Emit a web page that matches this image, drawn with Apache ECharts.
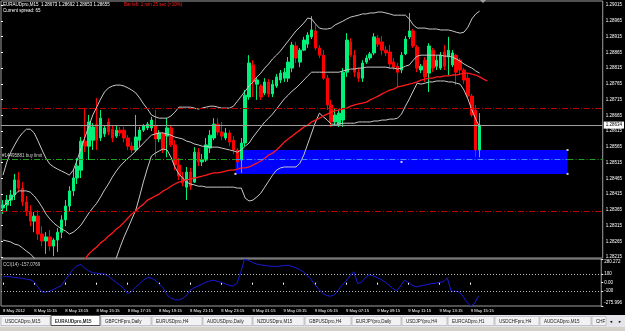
<!DOCTYPE html>
<html>
<head>
<meta charset="utf-8" />
<title>EURAUDpro,M15</title>
<script src="https://cdn.jsdelivr.net/npm/echarts@6.0.0/dist/echarts.min.js"></script>
</head>
<body style="margin:0;background:#000">
<div id="mt4-chart" style="width:625px;height:331px"></div>
<script>
// prices are kept in points (1 point = 0.00001)
// candles: [open, close, low, high], 8 May 09:15 .. 9 May 15:45, M15
const bars = [
  [128371,128380,128352,128396],[128380,128396,128358,128412],[128396,128412,128377,128428],[128412,128460,128396,128479],
  [128460,128434,128421,128485],[128434,128390,128377,128453],[128390,128361,128345,128409],[128361,128329,128313,128380],
  [128329,128345,128294,128358],[128345,128288,128269,128364],[128288,128266,128250,128313],[128266,128279,128225,128294],
  [128279,128250,128234,128301],[128250,128269,128218,128275],[128269,128294,128231,128307],[128294,128333,128275,128348],
  [128333,128377,128313,128396],[128377,128425,128361,128440],[128425,128466,128409,128491],[128466,128504,128447,128529],
  [128491,128583,128466,128596],[128583,128567,128548,128688],[128567,128644,128523,128666],[128586,128628,128555,128640],
  [128637,128586,128555,128720],[128593,128656,128583,128682],[128606,128625,128596,128634],[128644,128612,128602,128656],
  [128621,128593,128580,128634],[128599,128618,128593,128631],[128618,128609,128599,128628],[128618,128593,128580,128628],
  [128593,128567,128555,128602],[128567,128555,128545,128580],[128555,128596,128548,128666],[128586,128618,128564,128628],
  [128618,128631,128612,128637],[128625,128637,128618,128644],[128625,128650,128615,128660],[128631,128590,128532,128682],
  [128590,128609,128580,128618],[128606,128555,128545,128612],[128599,128625,128532,128656],[128625,128571,128564,128634],
  [128571,128507,128491,128586],[128507,128472,128460,128529],[128469,128450,128440,128485],[128437,128485,128396,128501],
  [128485,128440,128428,128498],[128453,128548,128450,128564],[128548,128517,128504,128561],[128517,128523,128504,128542],
  [128523,128571,128517,128593],[128561,128602,128545,128618],[128593,128637,128586,128656],[128637,128612,128602,128656],
  [128612,128599,128586,128644],[128593,128609,128586,128625],[128609,128580,128567,128618],[128586,128555,128542,128599],
  [128555,128517,128498,128561],[128523,128577,128482,128593],[128577,128729,128567,128745],[128723,128831,128714,128856],
  [128825,128771,128723,128840],[128764,128777,128714,128783],[128758,128723,128714,128764],[128736,128771,128729,128783],
  [128771,128733,128723,128780],[128733,128764,128723,128777],[128758,128787,128752,128796],[128777,128799,128767,128809],
  [128783,128802,128771,128815],[128783,128834,128771,128850],[128815,128888,128802,128898],[128885,128847,128831,128898],
  [128834,128872,128818,128879],[128872,128904,128869,128914],[128891,128920,128879,128929],[128914,128936,128907,128980],
  [128933,128879,128872,128952],[128879,128856,128847,128888],[128856,128783,128777,128872],[128783,128698,128682,128793],
  [128698,128644,128628,128714],[128644,128666,128631,128688],[128637,128672,128628,128682],[128650,128802,128628,128815],
  [128802,128904,128787,128926],[128898,128856,128850,128910],[128856,128802,128787,128872],[128802,128783,128771,128815],
  [128783,128831,128771,128840],[128834,128847,128828,128856],[128847,128860,128840,128866],[128863,128914,128856,128926],
  [128910,128891,128882,128920],[128898,128872,128856,128917],[128872,128863,128853,128885],[128866,128828,128815,128888],
  [128834,128818,128809,128847],[128821,128802,128755,128831],[128809,128856,128799,128866],[128860,128907,128856,128917],
  [128914,128933,128907,128990],[128933,128885,128879,128939],[128882,128815,128802,128888],[128809,128821,128799,128828],
  [128840,128787,128771,128850],[128799,128885,128739,128894],[128872,128815,128802,128879],[128821,128840,128809,128856],
  [128815,128856,128809,128866],[128866,128821,128809,128888],[128850,128872,128793,128914],[128825,128863,128818,128872],
  [128856,128802,128761,128860],[128840,128809,128796,128847],[128809,128777,128764,128815],[128783,128726,128720,128799],
  [128726,128666,128660,128733],[128682,128555,128532,128698],[128555,128634,128532,128672]
];

// Bollinger bands
const bbUpper = [
  128475,128517,128548,128571,128593,128609,128621,128621,128609,128583,
  128555,128529,128510,128501,128494,128488,128482,128475,128491,128523,
  128561,128596,128631,128666,128691,128717,128739,128752,128758,128761,
  128761,128758,128752,128745,128736,128720,128701,128685,128666,128660,
  128656,128656,128656,128663,128675,128691,128691,128691,128691,128688,
  128685,128688,128691,128694,128694,128691,128688,128688,128688,128694,
  128710,128726,128742,128758,128771,128787,128799,128815,128828,128844,
  128856,128869,128885,128901,128917,128933,128945,128958,128974,128971,
  128955,128942,128939,128939,128942,128952,128958,128964,128971,128977,
  128980,128983,128987,128987,128990,128990,128993,128993,128990,128987,
  128983,128983,128983,128983,128971,128952,128942,128942,128942,128939,
  128939,128939,128936,128936,128936,128933,128929,128926,128929,128945,
  128971,128987,128996
];
const bbMiddle = [
  128374,128386,128399,128412,128425,128425,128425,128421,128409,128393,
  128374,128352,128336,128323,128313,128304,128298,128288,128294,128304,
  128317,128336,128355,128371,128386,128406,128428,128447,128469,128488,
  128504,128517,128529,128539,128552,128564,128577,128590,128602,128606,
  128609,128609,128606,128602,128596,128593,128590,128583,128580,128574,
  128571,128567,128567,128564,128564,128564,128561,128558,128555,128552,
  128548,128555,128567,128577,128596,128612,128628,128644,128656,128669,
  128685,128701,128717,128729,128742,128752,128764,128777,128790,128802,
  128802,128802,128802,128802,128802,128802,128802,128806,128809,128812,
  128812,128815,128815,128818,128818,128818,128818,128818,128818,128815,
  128815,128812,128815,128821,128825,128840,128853,128856,128856,128856,
  128856,128856,128856,128853,128853,128850,128844,128837,128828,128821,
  128815,128806,128799
];
const bbLower = [
  128269,128266,128263,128256,128253,128244,128234,128225,128212,128199,
  128186,128171,128155,128142,128129,128120,128110,128101,128091,128082,
  128079,128075,128075,128075,128079,128088,128113,128139,128174,128212,
  128247,128279,128307,128336,128364,128409,128456,128498,128536,128545,
  128552,128558,128555,128532,128501,128479,128466,128453,128447,128444,
  128440,128440,128437,128437,128437,128437,128437,128437,128437,128437,
  128434,128434,128402,128393,128396,128406,128418,128437,128456,128475,
  128491,128498,128501,128501,128501,128501,128513,128539,128574,128609,
  128644,128672,128660,128650,128637,128637,128637,128640,128640,128640,
  128640,128644,128644,128644,128644,128647,128647,128650,128650,128653,
  128653,128656,128669,128694,128717,128742,128767,128764,128767,128771,
  128771,128774,128774,128774,128771,128771,128767,128764,128745,128717,
  128682,128653,128628
];
// moving average, shifted 2 bars ahead
const maLine = [
  127983,127993,128002,128012,128021,128031,128040,128050,128059,128072,
  128082,128094,128104,128113,128123,128136,128148,128161,128174,128186,
  128199,128209,128225,128237,128247,128260,128269,128282,128291,128304,
  128313,128326,128339,128352,128361,128374,128383,128396,128402,128409,
  128415,128425,128431,128440,128447,128453,128456,128460,128463,128466,
  128469,128472,128475,128479,128482,128482,128485,128488,128491,128491,
  128494,128498,128498,128501,128507,128513,128520,128529,128539,128545,
  128555,128567,128580,128590,128599,128609,128618,128628,128634,128644,
  128650,128656,128663,128669,128675,128679,128682,128685,128688,128694,
  128698,128701,128704,128707,128714,128720,128726,128733,128739,128745,
  128748,128755,128758,128761,128764,128767,128771,128777,128780,128783,
  128783,128787,128787,128790,128790,128793,128793,128796,128799,128799,
  128796,128793,128787,128780,128774
];
// CCI(14)
const cciValues = [
  70,72,68,62,58,50,42,34,10,-55,
  -110,-112,-100,-80,-55,-35,35,95,160,200,
  215,170,140,118,112,108,102,80,38,5,
  -30,-70,-130,-100,-55,-15,30,60,55,30,
  -15,-55,-140,-180,-200,-205,-190,-155,-90,-60,
  -40,-20,5,20,30,15,5,-15,-30,-40,
  -10,120,280.272,262,240,222,212,205,198,195,
  192,196,202,206,195,178,160,130,90,40,
  -20,-75,-125,-152,-160,-145,-90,-30,20,80,
  130,-10,5,60,95,80,60,40,10,-25,
  -70,-95,-40,30,5,-30,-50,-40,-30,-20,
  -12,-5,3,12,55,-100,-100,-110,-160,-230,
  -275.996,-245,-157.0769
];

const timeTicks = ['8 May 2012','8 May 11:15','8 May 13:15','8 May 15:15','8 May 17:15','8 May 19:15',
  '8 May 21:15','8 May 23:15','9 May 01:15','9 May 03:15','9 May 05:15','9 May 07:15',
  '9 May 09:15','9 May 11:15','9 May 13:15','9 May 15:15'];
const priceTicks = [129015,128965,128915,128865,128815,128765,128715,128665,128615,
  128565,128515,128465,128415,128365,128315,128265,128215];
const cciTicks = [280.272, 100, 0, -100, -275.996];
const cciTickText = ['280.272', '100', '0.00', '-100', '-275.996'];

const bidPrice = 128634;
const redLevels = [128688, 128359];
const buyLimit = 128525;
const boxBars = [60, 145];
const boxPrices = [128555, 128479];

const tabNames = ['USDCADpro,M15','EURAUDpro,M15','GBPCHFpro,Daily','EURUSDpro,H4','AUDUSDpro,Daily',
  'NZDUSDpro,M15','GBPUSDpro,H4','EURJPYpro,Daily','USDJPYpro,H4','EURCADpro,H1','USDCHFpro,H4',
  'AUDCADpro,M15','CHF'];
const tabEdges = [1,51,101,152,203,253,305,352,402,448,495,540,592,607];

const slotCount = 154;  // bars + empty space on the right
const tickEvery = 8;
const font = 'Liberation Sans';

const pt = v => v / 1e5;
const pad = n => (n < 10 ? '0' : '') + n;
const cats = [];
const t0 = Date.UTC(2012, 4, 8, 9, 15);
for (let i = 0; i < slotCount; i++) {
  const d = new Date(t0 + i * 900000);
  cats.push(d.getUTCDate() + ' May ' + pad(d.getUTCHours()) + ':' + pad(d.getUTCMinutes()));
}
const isTick = i => i % tickEvery === 0 && i / tickEvery < timeTicks.length;

const dom = document.getElementById('mt4-chart');
const myChart = echarts.init(dom);

const dashDot = [6, 2, 1, 2];
// a horizontal level between two bar positions of the price grid
const level = (price, from, to, lineStyle, label) => [
  { xAxis: from, yAxis: pt(price), lineStyle, label: label || { show: false } },
  { xAxis: to, yAxis: pt(price) }
];
const greenDash = { color: '#20a020', type: dashDot, width: 1 };
const redDash = { color: '#c00000', type: dashDot, width: 1 };

// tab strip at the bottom
const graphics = [
  { type: 'rect', shape: { x: 0, y: 315, width: 625, height: 12 }, style: { fill: '#e4e4ea' } },
  { type: 'rect', shape: { x: 0, y: 327, width: 625, height: 4 }, style: { fill: '#d4d0c8' } },
  { type: 'polygon', shape: { points: [[480, 0], [486, 0], [483, 3]] }, style: { fill: '#a0a0a0' } }
];
tabNames.forEach((name, i) => {
  const x0 = tabEdges[i], x1 = tabEdges[i + 1];
  const sel = i === 1;
  graphics.push({ type: 'rect', shape: { x: x0, y: sel ? 315.5 : 316.5, width: x1 - x0 - 1, height: sel ? 10 : 9 },
    style: { fill: sel ? '#ffffff' : '#f2f2f4', stroke: sel ? '#505050' : '#a8a8b0', lineWidth: sel ? 1 : 0.6 } });
  graphics.push({ type: 'text', style: { x: x0 + 4, y: 321.5, text: name, fill: '#202020', fontSize: 4.5,
    fontFamily: font, fontWeight: sel ? 'bold' : 'normal', verticalAlign: 'middle' } });
});
graphics.push({ type: 'text', style: { x: 609, y: 321.5, text: '◄', fill: '#000', fontSize: 4, verticalAlign: 'middle' } });
graphics.push({ type: 'text', style: { x: 618, y: 321.5, text: '►', fill: '#000', fontSize: 4, verticalAlign: 'middle' } });
// header texts
graphics.push({ type: 'text', z: 10, style: { x: 3, y: 5, text: 'EURAUDpro,M15  1.28673 1.28692 1.28653 1.28655',
  fill: '#ffffff', fontSize: 4.5, fontFamily: font, verticalAlign: 'middle' } });
graphics.push({ type: 'text', z: 10, style: { x: 3, y: 10.5, text: 'Current spread: 65',
  fill: '#ffffff', fontSize: 4.5, fontFamily: font, verticalAlign: 'middle' } });
graphics.push({ type: 'text', z: 10, style: { x: 124, y: 5, text: 'Bar left: 1 min 25 sec (<10%)',
  fill: '#ff2020', fontSize: 4.5, fontFamily: font, verticalAlign: 'middle' } });
graphics.push({ type: 'text', z: 10, style: { x: 3, y: 265, text: 'CCI(14) -157.0769',
  fill: '#d0d0d0', fontSize: 4.5, fontFamily: font, verticalAlign: 'middle' } });

const boxMid = [(boxBars[0] + boxBars[1]) / 2, (boxPrices[0] + boxPrices[1]) / 2];

const option = {
  backgroundColor: '#000',
  animation: false,
  textStyle: { fontFamily: font },
  grid: [
    { left: 1, top: 1, width: 603, height: 257, show: true, borderColor: '#a0a0a0', borderWidth: 1 },
    { left: 1, top: 259, width: 603, height: 47, show: true, borderColor: '#a0a0a0', borderWidth: 1 }
  ],
  xAxis: [
    { type: 'category', gridIndex: 0, data: cats, show: false },
    { type: 'value', gridIndex: 0, min: 0, max: slotCount, show: false },
    {
      type: 'category', gridIndex: 1, data: cats,
      axisLine: { show: false },
      axisTick: { show: true, alignWithLabel: true, interval: isTick, length: 2, lineStyle: { color: '#ffffff' } },
      axisLabel: {
        interval: isTick, align: 'left', margin: 3, color: '#ffffff', fontSize: 4.2,
        formatter: (v, i) => timeTicks[i / tickEvery]
      }
    }
  ],
  yAxis: [
    {
      type: 'value', gridIndex: 0, position: 'right',
      min: 1.28212, max: 1.29028,
      splitLine: { show: false }, axisLine: { show: false },
      axisTick: { show: true, length: 2, customValues: priceTicks.map(pt), lineStyle: { color: '#ffffff' } },
      axisLabel: { customValues: priceTicks.map(pt), formatter: v => v.toFixed(5), color: '#ffffff', fontSize: 4.5, margin: 3 }
    },
    {
      type: 'value', gridIndex: 1, position: 'right',
      min: -275.996, max: 280.272,
      splitLine: { show: false }, axisLine: { show: false },
      axisTick: { show: true, length: 2, customValues: cciTicks, lineStyle: { color: '#ffffff' } },
      axisLabel: {
        customValues: cciTicks, color: '#ffffff', fontSize: 4.5, margin: 3,
        formatter: v => {
          const i = cciTicks.indexOf(v);
          if (i === 0) return '{dn|' + cciTickText[i] + '}';
          if (i === cciTicks.length - 1) return '{up|' + cciTickText[i] + '}';
          return cciTickText[i];
        },
        rich: {
          dn: { color: '#ffffff', fontSize: 4.5, padding: [6, 0, 0, 0] },
          up: { color: '#ffffff', fontSize: 4.5, padding: [0, 0, 6, 0] }
        }
      }
    }
  ],
  series: [
    {
      // pending order box and horizontal levels on a value x axis over the price grid
      type: 'line', xAxisIndex: 1, yAxisIndex: 0, data: [], z: 1, silent: true,
      markArea: {
        silent: true, itemStyle: { color: '#0000ff' },
        data: [[{ xAxis: boxBars[0], yAxis: pt(boxPrices[0]) }, { xAxis: boxBars[1], yAxis: pt(boxPrices[1]) }]]
      },
      markLine: {
        silent: true, symbol: 'none', animation: false,
        data: [
          level(redLevels[0], 0, slotCount, redDash),
          level(redLevels[1], 0, slotCount, redDash),
          level(buyLimit, 0, boxBars[0], greenDash,
            { show: true, position: 'insideStartTop', formatter: '#14495881 buy limit', color: '#d0d0d0', fontSize: 4.5, distance: 1 }),
          level(buyLimit, boxBars[0], boxBars[1], { color: '#3c8cff', type: dashDot, width: 1 }),
          level(buyLimit, boxBars[1], slotCount, greenDash),
          level(bidPrice, 0, slotCount, { color: '#a0a0a0', type: 'solid', width: 1 },
            { show: true, position: 'end', distance: 1, formatter: (bidPrice / 1e5).toFixed(5),
              color: '#000', backgroundColor: '#ffffff', fontSize: 4.5, padding: [1, 2] })
        ]
      }
    },
    {
      // selection handles of the box
      type: 'scatter', xAxisIndex: 1, yAxisIndex: 0, z: 6, silent: true, symbol: 'rect', symbolSize: 2,
      itemStyle: { color: '#ffffff' },
      data: [[boxBars[1], pt(boxPrices[0])], [boxBars[1], pt(boxPrices[1])], [boxBars[0], pt(boxPrices[1])],
        [boxMid[0], pt(boxMid[1])]]
    },
    {
      type: 'candlestick', xAxisIndex: 0, yAxisIndex: 0, z: 2, barWidth: 3,
      data: bars.map(b => b.map(pt)),
      itemStyle: { color: '#00f07a', color0: '#ff0000', borderColor: '#00f07a', borderColor0: '#ff0000', borderWidth: 1 }
    },
    { type: 'line', name: 'BB upper', xAxisIndex: 0, yAxisIndex: 0, z: 3, symbol: 'none', data: bbUpper.map(pt), lineStyle: { color: '#c8c8c8', width: 1 } },
    { type: 'line', name: 'BB middle', xAxisIndex: 0, yAxisIndex: 0, z: 3, symbol: 'none', data: bbMiddle.map(pt), lineStyle: { color: '#c8c8c8', width: 1 } },
    { type: 'line', name: 'BB lower', xAxisIndex: 0, yAxisIndex: 0, z: 3, symbol: 'none', data: bbLower.map(pt), lineStyle: { color: '#c8c8c8', width: 1 } },
    { type: 'line', name: 'MA', xAxisIndex: 0, yAxisIndex: 0, z: 4, symbol: 'none', data: maLine.map(pt), lineStyle: { color: '#ff1a1a', width: 1.3 } },
    {
      type: 'line', name: 'CCI(14)', xAxisIndex: 2, yAxisIndex: 1, symbol: 'none', data: cciValues,
      lineStyle: { color: '#1a1ad8', width: 1 },
      markLine: {
        silent: true, symbol: 'none', label: { show: false },
        lineStyle: { color: '#c0c0c0', type: [1, 2], width: 1 },
        data: [{ yAxis: 100 }, { yAxis: -100 }]
      }
    }
  ],
  graphic: graphics
};

myChart.setOption(option);
</script>
</body>
</html>
